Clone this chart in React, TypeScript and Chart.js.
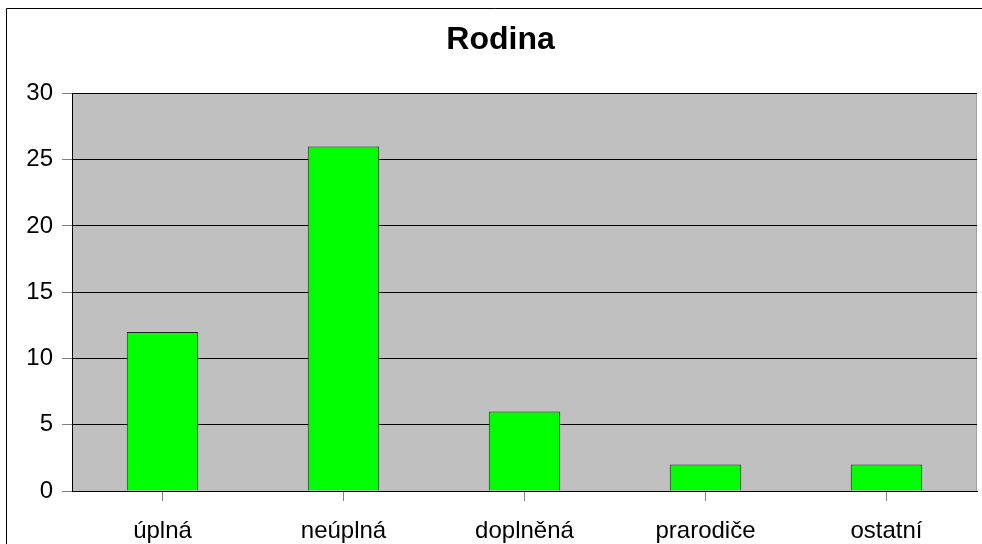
import React, { useEffect, useRef } from "react";
import { Chart, registerables } from "chart.js";

Chart.register(...registerables);

const TITLE = "Rodina";
const CATEGORIES = ["úplná", "neúplná", "doplněná", "prarodiče", "ostatní"];
const VALUES = [12, 26, 6, 2, 2];
const Y_MIN = 0;
const Y_MAX = 30;
const Y_STEP = 5;

const FONT = "'Liberation Sans', Arial, sans-serif";

const backgroundPlugin = {
  id: "plotBackground",
  beforeDraw(chart: any) {
    const { ctx, chartArea, width, height } = chart;
    ctx.save();
    ctx.fillStyle = "#ffffff";
    ctx.fillRect(0, 0, width, height);
    // outer frame
    ctx.strokeStyle = "#000000";
    ctx.lineWidth = 1;
    ctx.beginPath();
    ctx.moveTo(6.5, height);
    ctx.lineTo(6.5, 8.5);
    ctx.lineTo(width, 8.5);
    ctx.stroke();
    // plot area
    ctx.fillStyle = "#c0c0c0";
    ctx.fillRect(chartArea.left, chartArea.top, chartArea.right - chartArea.left, chartArea.bottom - chartArea.top);
    ctx.strokeStyle = "#a0a0a0";
    ctx.beginPath();
    ctx.moveTo(chartArea.right - 0.5, chartArea.top);
    ctx.lineTo(chartArea.right - 0.5, chartArea.bottom);
    ctx.stroke();
    ctx.restore();
  },
};

export default function App() {
  const ref = useRef<HTMLCanvasElement | null>(null);

  useEffect(() => {
    if (!ref.current) return;
    const chart = new Chart(ref.current, {
      type: "bar",
      data: {
        labels: CATEGORIES,
        datasets: [
          {
            data: VALUES,
            backgroundColor: "#00ff00",
            borderColor: "#222222",
            borderWidth: 1,
            categoryPercentage: 1,
            barPercentage: 0.395,
          },
        ],
      },
      options: {
        responsive: false,
        animation: false,
        layout: { padding: { left: 24, right: 5, top: 0, bottom: 0 } },
        plugins: {
          legend: { display: false },
          tooltip: { enabled: false },
          title: {
            display: true,
            text: TITLE,
            color: "#000000",
            font: { family: FONT, size: 32, weight: "bold" },
            padding: { top: 21, bottom: 34 },
          },
        },
        scales: {
          x: {
            offset: true,
            grid: {
              display: true,
              drawOnChartArea: false,
              drawTicks: true,
              tickLength: 10,
              tickColor: "#808080",
              offset: false,
            },
            border: { display: true, color: "#000000", width: 1 },
            ticks: {
              color: "#000000",
              font: { family: FONT, size: 24 },
              padding: 16,
              maxRotation: 0,
            },
            afterFit(scale: any) {
              scale.height = 53;
            },
          },
          y: {
            min: Y_MIN,
            max: Y_MAX,
            grid: {
              color: "#000000",
              tickColor: "#808080",
              tickLength: 10,
              drawTicks: true,
            },
            border: { display: true, color: "#000000", width: 1 },
            ticks: {
              stepSize: Y_STEP,
              color: "#000000",
              font: { family: FONT, size: 24 },
              padding: 9,
            },
            afterFit(scale: any) {
              scale.width = 48;
            },
          },
        },
      },
      plugins: [backgroundPlugin],
    });
    return () => chart.destroy();
  }, []);

  return (
    <div style={{ position: "fixed", left: 0, top: 0, width: 982, height: 544 }}>
      <canvas ref={ref} width={982} height={544} style={{ display: "block" }} />
    </div>
  );
}
